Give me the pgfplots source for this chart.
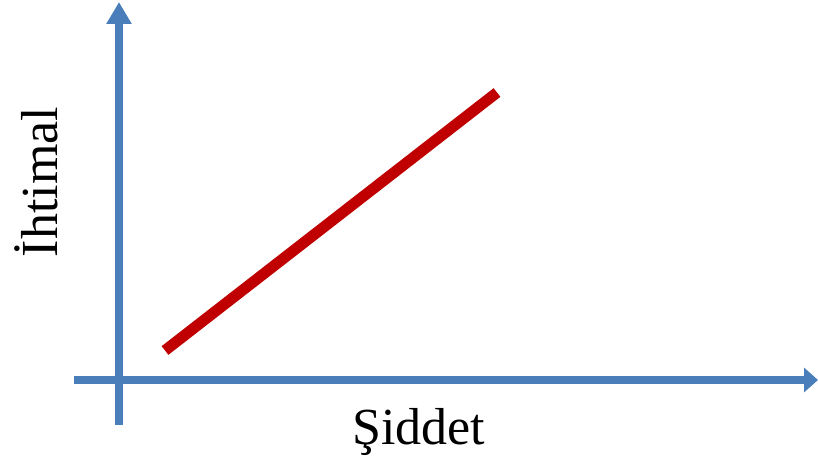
\documentclass[border=0pt]{standalone}
\usepackage{fontspec}
\setmainfont{Liberation Serif}
\usepackage{pgfplots}
\pgfplotsset{compat=1.18}
\usetikzlibrary{arrows.meta}
\definecolor{axblue}{HTML}{4A7EBB}
\definecolor{linered}{HTML}{C00000}
\begin{document}
\begin{tikzpicture}
\path[use as bounding box] (0,0) rectangle (818pt,458pt);
\begin{axis}[
  at={(0,0)}, anchor=south west,
  width=818pt, height=458pt, scale only axis,
  xmin=0, xmax=818, ymin=0, ymax=458,
  hide axis, clip=false,
]
% vertical axis (Ihtimal)
\addplot[axblue, line width=7.5pt, no marks, -{Triangle[width=24pt,length=22pt]}]
  coordinates {(119,33) (119,456)};
% horizontal axis (Siddet)
\addplot[axblue, line width=7.5pt, no marks, -{Triangle[width=24pt,length=14pt]}]
  coordinates {(74,78) (818,78)};
% red line
\addplot[linered, line width=11pt, no marks]
  coordinates {(165,107.5) (497,365.5)};
\node[anchor=base west, inner sep=0pt, font=\fontsize{52}{60}\selectfont]
  at (axis cs:352,14) {Şiddet};
\node[anchor=base, rotate=90, inner sep=0pt, font=\fontsize{52}{60}\selectfont]
  at (axis cs:57,276) {İhtimal};
\end{axis}
\end{tikzpicture}
\end{document}
